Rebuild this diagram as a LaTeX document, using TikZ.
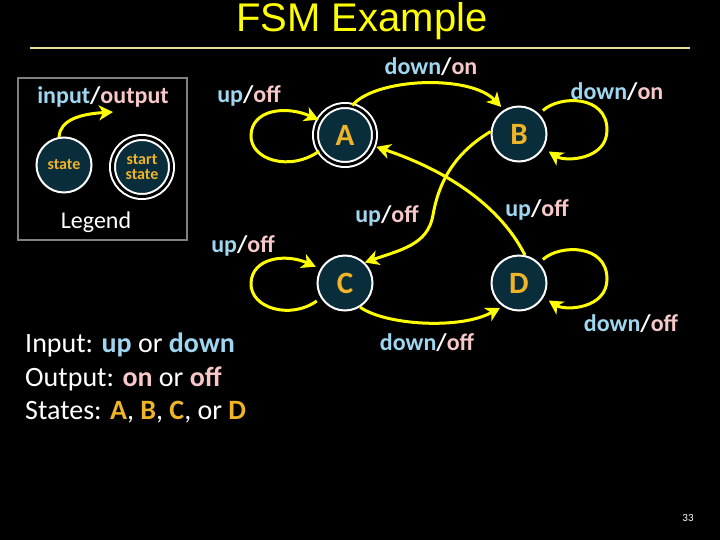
\documentclass[tikz,border=0pt]{standalone}
\usepackage{fontspec}
\setmainfont{Carlito}
\newfontfamily\titlefont{Liberation Sans}
\usetikzlibrary{arrows.meta}
\definecolor{lblue}{RGB}{160,215,240}
\definecolor{lpink}{RGB}{248,200,200}
\definecolor{gold}{RGB}{240,180,40}
\definecolor{nodefill}{RGB}{10,45,60}
\definecolor{fsmyellow}{RGB}{255,255,0}
\definecolor{rulecol}{RGB}{230,225,150}
\definecolor{boxgray}{RGB}{128,128,128}
\newcommand{\fsmin}[1]{\textcolor{lblue}{\bfseries #1}}
\newcommand{\fsmout}[1]{\textcolor{lpink}{\bfseries #1}}
\newcommand{\fsmio}[2]{\fsmin{#1}\textcolor{white}{\bfseries/}\fsmout{#2}}
\newcommand{\fsmst}[1]{\textcolor{gold}{\bfseries #1}}
\begin{document}
\begin{tikzpicture}[x=1pt,y=-1pt,
  fsmstate/.style={circle, draw=white, line width=2pt, fill=nodefill, minimum size=55pt, inner sep=0pt, text=gold, font=\fontsize{31}{31}\selectfont\bfseries},
  startst/.style={fsmstate, minimum size=59pt, double=black, double distance=3pt},
  fsmedge/.style={draw=fsmyellow, line width=3pt, -{Stealth[length=14pt,width=15pt,inset=4pt]}},
  fsmlabel/.style={font=\fontsize{24}{24}\selectfont, inner sep=0pt},
  bodytext/.style={font=\fontsize{28}{28}\selectfont, text=white, inner sep=0pt, anchor=west}]
\fill[black] (0,0) rectangle (720,540);
\useasboundingbox (0,0) rectangle (720,540);
% title
\node[inner sep=0pt, text=fsmyellow, font=\titlefont\fontsize{40}{40}\selectfont] (title) at (362,21) {FSM Example};
\coordinate (ruleL) at (30,48);
\coordinate (ruleR) at (690,48);
\draw[rulecol, line width=1.2pt] (ruleL) -- (ruleR);
% legend
\node[draw=boxgray, line width=2.5pt, minimum width=169pt, minimum height=162pt, inner sep=0pt] (legendbox) at (102.5,159) {};
\node[fsmlabel] (lgio) at (103,97) {\fsmio{input}{output}};
\node[fsmstate, font=\fontsize{16}{15}\selectfont\bfseries] (lgstate) at (64,165) {state};
\node[startst, font=\fontsize{16}{15}\selectfont\bfseries, align=center] (lgstart) at (142,167) {start\\state};
\node[fsmlabel, text=white] (lglegend) at (96,222) {Legend};
\coordinate (lgtip) at (113,112);
\draw[fsmedge] (lgstate.100) .. controls (60,120) and (80,114) .. (lgtip);
% states
\node[startst] (A) at (345,135) {A};
\node[fsmstate] (B) at (519,134) {B};
\node[fsmstate] (C) at (345,283) {C};
\node[fsmstate] (D) at (519,283) {D};
% edges
\draw[fsmedge] (A.212) .. controls (290,172) and (250,160) .. (251,135) .. controls (252,110) and (285,105) .. (A.150);
\draw[fsmedge, shorten >=4pt] (A.76) .. controls (375,78) and (470,74) .. (B.122);
\draw[fsmedge, shorten <=5pt, shorten >=6pt] (B.45) .. controls (560,95) and (607,95) .. (607,130) .. controls (607,160) and (565,162) .. (B.-30);
\draw[fsmedge, shorten >=3pt] (D.78) .. controls (505,215) and (460,175) .. (A.-21);
\draw[fsmedge] (B.175) .. controls (460,150) and (440,175) .. (433,215) .. controls (428,245) and (400,250) .. (C.46);
\draw[fsmedge, shorten <=5pt, shorten >=5pt] (C.212) .. controls (290,320) and (250,308) .. (251,283) .. controls (252,258) and (285,253) .. (C.150);
\draw[fsmedge, shorten >=3pt] (C.-58) .. controls (385,325) and (460,330) .. (D.-125);
\draw[fsmedge, shorten <=5pt, shorten >=6pt] (D.45) .. controls (560,244) and (607,244) .. (607,279) .. controls (607,309) and (565,311) .. (D.-30);
% labels
\node[fsmlabel] (lAB) at (431,67) {\fsmio{down}{on}};
\node[fsmlabel] (lBB) at (617,92) {\fsmio{down}{on}};
\node[fsmlabel] (lAA) at (249,96) {\fsmio{up}{off}};
\node[fsmlabel] (lBC) at (387,216) {\fsmio{up}{off}};
\node[fsmlabel] (lDA) at (537,210) {\fsmio{up}{off}};
\node[fsmlabel] (lCC) at (243,246) {\fsmio{up}{off}};
\node[fsmlabel] (lCD) at (427,343) {\fsmio{down}{off}};
\node[fsmlabel] (lDD) at (631,324) {\fsmio{down}{off}};
% body text
\node[bodytext] (t1) at (25,345) {Input: \fsmin{up} or \fsmin{down}};
\node[bodytext] (t2) at (25,379) {Output: \fsmout{on} or \fsmout{off}};
\node[bodytext] (t3) at (25,412) {States: \fsmst{A}, \fsmst{B}, \fsmst{C}, or \fsmst{D}};
\node[inner sep=0pt, text=white, font=\fontsize{11}{11}\selectfont] (pnum) at (688,518) {33};
\end{tikzpicture}
\end{document}
